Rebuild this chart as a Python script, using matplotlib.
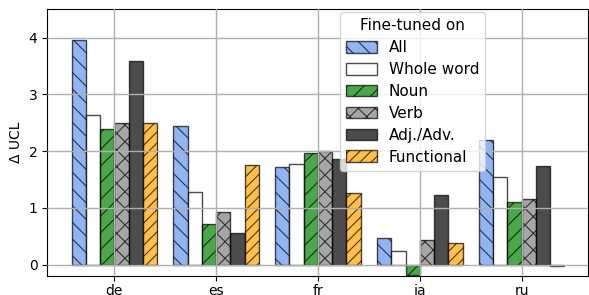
import matplotlib
matplotlib.use("Agg")
import matplotlib.pyplot as plt
import numpy as np

languages = ["de", "es", "fr", "ja", "ru"]
series_names = ["All", "Whole word", "Noun", "Verb", "Adj./Adv.", "Functional"]
all_vals = [3.95, 2.44, 1.72, 0.47, 2.19]
whole_word = [2.64, 1.28, 1.77, 0.25, 1.54]
noun = [2.39, 0.72, 1.96, -0.18, 1.11]
verb = [2.49, 0.93, 2.01, 0.44, 1.16]
adj_adv = [3.59, 0.56, 1.86, 1.22, 1.73]
functional = [2.50, 1.76, 1.26, 0.38, -0.02]

series = [all_vals, whole_word, noun, verb, adj_adv, functional]
colors = ["cornflowerblue", "white", "green", "gray", "black", "orange"]
hatches = ["\\\\", "", "//", "xx", "", "///"]

plt.rcParams["font.family"] = ["DejaVu Sans"]
plt.rcParams["hatch.linewidth"] = 0.8

fig = plt.figure(figsize=(5.89, 2.95), dpi=100)
ax = fig.add_axes([0.080, 0.064, 0.918, 0.905])

x = np.arange(len(languages))
width = 0.14
for i, (name, vals) in enumerate(zip(series_names, series)):
    ax.bar(x + (i - 2.5) * width, vals, width, color=colors[i], alpha=0.7,
           edgecolor="black", hatch=hatches[i], linewidth=1.0, label=name)

ax.set_xticks(x)
ax.set_xticklabels(languages, fontsize=10)
ax.set_yticks([0, 1, 2, 3, 4])
ax.tick_params(axis="y", labelsize=10)
ax.tick_params(axis="x", pad=2.5)
ax.set_ylabel("Δ UCL", fontsize=10)
ax.set_xlim(-0.66, 4.65)
ax.set_ylim(-0.2, 4.5)
ax.grid(True, color="#b0b0b0", linewidth=1.0)
ax.set_axisbelow(False)

leg = ax.legend(title="Fine-tuned on", loc="upper left", bbox_to_anchor=(0.536, 1.0),
                borderaxespad=0.2, labelspacing=0.45, handleheight=0.8,
                fontsize=11, title_fontsize=11, framealpha=0.8)

fig.savefig("out.png", dpi=100)
